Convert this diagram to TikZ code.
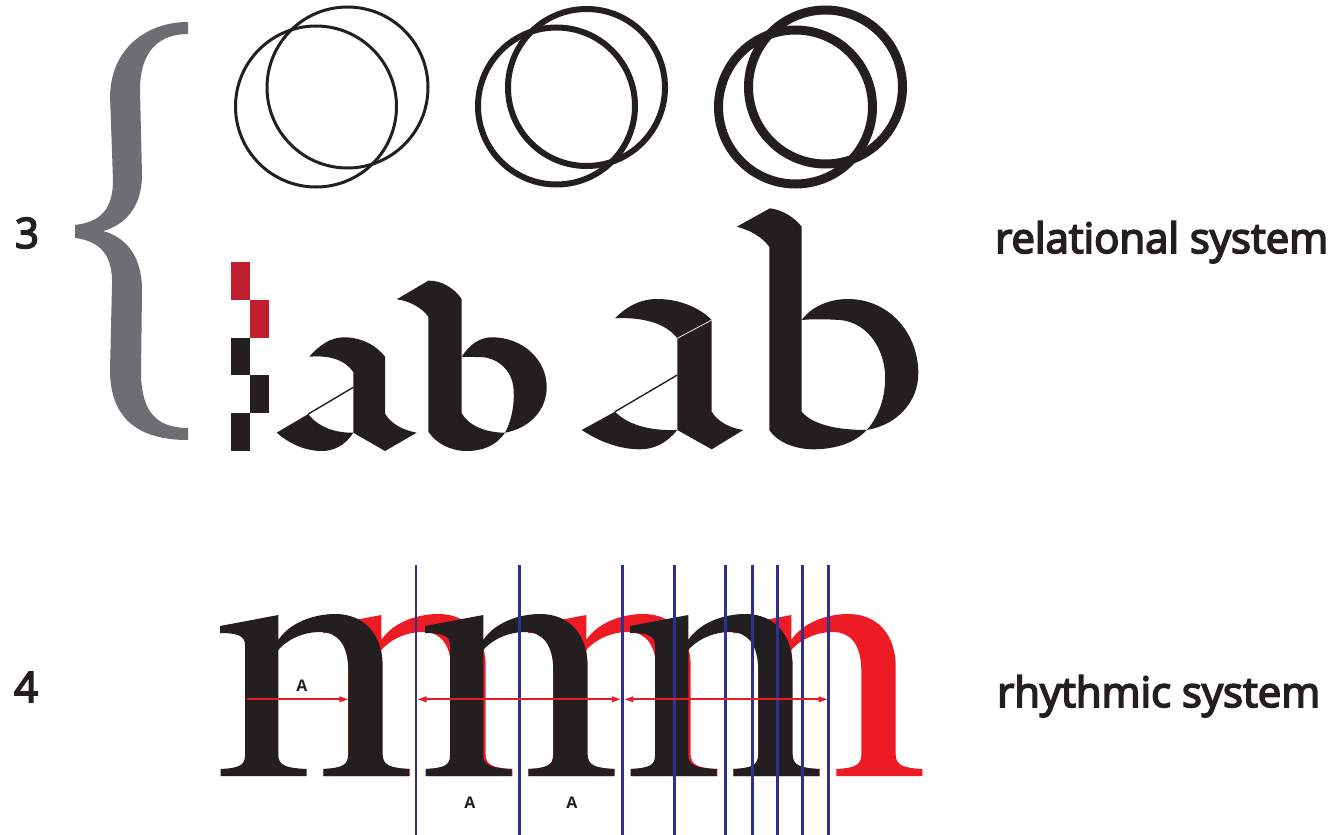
\documentclass[tikz,border=0pt]{standalone}
\usepackage{fontspec}
\usepackage{graphicx}
\setmainfont{Open Sans}
\newfontfamily\labelfont[FakeBold=4]{Open Sans}
\usetikzlibrary{arrows.meta}
\definecolor{ink}{HTML}{231F20}
\definecolor{bracegray}{HTML}{6D6E71}
\definecolor{darkred}{HTML}{BE1E2D}
\definecolor{brightred}{HTML}{ED1C24}
\definecolor{navy}{HTML}{2E3192}
% serif n glyph, origin at left serif / baseline
\newcommand{\nglyph}[2]{%
\fill[#2,shift={(#1,776)}]
 (0,-150) -- (58.3,-161) -- (58.3,-136)
 .. controls (70,-154) and (95,-162) .. (115,-162)
 .. controls (145,-162) and (162,-141) .. (162.7,-111)
 -- (162.7,-21) .. controls (163,-11) and (170,-8) .. (189.3,-7)
 -- (189.3,0) -- (103.3,0) -- (103.3,-7)
 .. controls (122,-8) and (128,-11) .. (128.3,-21)
 -- (128.3,-106) .. controls (128,-131) and (118,-144) .. (100,-144)
 .. controls (80,-144) and (65,-134) .. (58.3,-126)
 -- (58.3,-21) .. controls (58.5,-11) and (65,-8) .. (86.7,-7)
 -- (86.7,0) -- (0.7,0) -- (0.7,-7)
 .. controls (20,-8) and (25,-11) .. (25,-21)
 -- (25,-131) .. controls (25,-140) and (18,-143) .. (0,-143) -- cycle;}
\begin{document}
\begin{tikzpicture}[x=1pt,y=-1pt,
  ringthin/.style={draw=ink,line width=3pt},
  ringmid/.style={draw=ink,line width=6pt},
  ringthick/.style={draw=ink,line width=9pt},
  letterfill/.style={fill=ink},
  hairline/.style={draw=ink,line width=1.4pt},
  bluerule/.style={draw=navy,line width=2.6pt},
  redarrow/.style={draw=brightred,line width=2pt},
  tipA/.tip={Triangle[length=9pt,width=5.5pt]},
  sidelabel/.style={anchor=base west,inner sep=0pt,text=ink},
  numlabel/.style={anchor=base,inner sep=0pt,text=ink,font=\fontsize{42}{42}\labelfont},
  smallA/.style={inner sep=0pt,text=ink,font=\fontsize{16}{16}\selectfont\bfseries}]
\useasboundingbox (0,0) rectangle (1344,835);
\fill[white] (0,0) rectangle (1344,835);

% brace
\fill[bracegray] (188,22) .. controls (150,22) and (112,45) .. (110,95)
  -- (113,180) .. controls (113,210) and (100,222) .. (75,225)
  -- (75,238) .. controls (100,241) and (113,255) .. (112,285)
  -- (110,370) .. controls (110,420) and (140,440) .. (188,440)
  -- (188,428) .. controls (155,428) and (142,410) .. (141,375)
  -- (142,290) .. controls (142,255) and (125,237) .. (103,231)
  .. controls (125,225) and (142,207) .. (142,175)
  -- (140,90) .. controls (140,50) and (160,34) .. (188,34) -- cycle;

% numbers
\node[numlabel] (n3) at (27,248) {3};
\node[numlabel] (n4) at (26,702) {4};

% circles
\draw[ringthin] (316,106.5) circle (80.5);
\draw[ringthin] (347.5,87.5) circle (80.5);
\draw[ringmid] (556.5,106) circle (78.5);
\draw[ringmid] (586.5,87.5) circle (78.5);
\draw[ringthick] (795.5,107) circle (77);
\draw[ringthick] (825.5,87) circle (77);

% checker
\fill[darkred] (231,262) rectangle (250,300);
\fill[darkred] (250,300) rectangle (269,337.5);
\fill[ink] (231,337.5) rectangle (250,375);
\fill[ink] (250,375) rectangle (269,413);
\fill[ink] (231,413) rectangle (250,451);

% small a
\fill[letterfill] (309.3,356.7) .. controls (320,344) and (332,337.3) .. (344,337.3)
  .. controls (362,337.3) and (377,346) .. (385,356.7)
  -- (385,413.3) .. controls (390,423) and (402,430) .. (416.7,432.7)
  -- (385,451) -- (353.3,432.7) -- (353.3,372)
  .. controls (345,360) and (330,355) .. cycle;
\fill[letterfill] (276.7,432.7) -- (308.3,414)
  .. controls (318,427) and (335,433) .. (353.3,432.7)
  .. controls (345,446) and (333,451) .. (322,451)
  .. controls (305,451) and (290,444) .. cycle;
\draw[hairline] (308.3,414) -- (353.3,387.3);

% small b
\fill[letterfill] (396.7,299.3) -- (428.3,280.7)
  .. controls (440,280) and (455,288) .. (461.7,299.3)
  -- (461.7,413.3) .. controls (468,425) and (485,432.7) .. (505,432.7)
  .. controls (496,446) and (482,451) .. (466.7,451)
  .. controls (450,451) and (436,443) .. (428.3,431.7)
  -- (428.3,316.7) .. controls (422,308) and (410,301) .. cycle;
\fill[letterfill] (461.7,356.7) .. controls (470,344) and (480,337.3) .. (492,337.3)
  .. controls (523,337.3) and (546.7,360) .. (546.7,387)
  .. controls (546.7,410) and (530,428) .. (505,432.7)
  .. controls (512,420) and (515,402) .. (513.3,386.7)
  .. controls (511,368) and (495,357) .. (480,357)
  .. controls (472,357) and (466,357) .. cycle;

% big a
\fill[letterfill] (615,318.3) .. controls (628,305) and (642,299) .. (656.7,299)
  .. controls (680,299) and (700,308) .. (711.7,320)
  -- (711.7,411.7) .. controls (718,422) and (730,428) .. (743.3,430)
  -- (711.7,449.3) -- (677.3,430) -- (677.3,338.3)
  .. controls (665,322) and (640,317) .. cycle;
\draw[white,line width=0.7pt] (677.3,338.3) -- (711.7,320);
\fill[letterfill] (581.7,430) -- (615,411.7)
  .. controls (628,425) and (650,431) .. (677.3,430)
  .. controls (665,445) and (652,449.3) .. (640,449.3)
  .. controls (620,449.3) and (600,442) .. cycle;
\draw[hairline] (615,411.7) -- (677.3,375);

% big b
\fill[letterfill] (736.7,226.7) -- (770,208.3)
  .. controls (783,210) and (795,218) .. (801.7,226.7)
  -- (801.7,411.7) .. controls (812,424) and (835,430) .. (866.7,430)
  .. controls (855,443) and (835,449.3) .. (813.3,449.3)
  .. controls (795,449.3) and (777,442) .. (769.3,430)
  -- (769.3,246.7) .. controls (762,237) and (750,230) .. cycle;
\fill[letterfill] (801.7,320) .. controls (812,306) and (830,299) .. (848,299)
  .. controls (888,299) and (918.3,332) .. (918.3,373.3)
  .. controls (918.3,402) and (897,425) .. (866.7,430)
  .. controls (880,415) and (886,395) .. (885,373.3)
  .. controls (883,345) and (865,322) .. (840,320)
  .. controls (825,319) and (812,319) .. cycle;

% n glyphs: red behind, black in front
\nglyph{323}{brightred}
\nglyph{528}{brightred}
\nglyph{733}{brightred}
\nglyph{220}{ink}
\nglyph{425}{ink}
\nglyph{630}{ink}

% blue rules
\foreach \bx [count=\i] in {416,519.3,622.3,674.3,725.3,752.3,777.3,802.3,828.3}{
  \coordinate (rt\i) at (\bx,565);
  \coordinate (rb\i) at (\bx,835);
  \draw[bluerule] (rt\i) -- (rb\i);
}

% red arrows
\coordinate (a1s) at (246.7,699.3);
\coordinate (a1e) at (348.3,699.3);
\coordinate (a2s) at (417.5,699.3);
\coordinate (a2e) at (620.8,699.3);
\coordinate (a3s) at (624.3,699.3);
\coordinate (a3e) at (827.7,699.3);
\draw[redarrow,-tipA] (a1s) -- (a1e);
\draw[redarrow,tipA-tipA] (a2s) -- (a2e);
\draw[redarrow,tipA-tipA] (a3s) -- (a3e);

% A labels
\node[smallA] (A1) at (302,686) {A};
\node[smallA] (A2) at (470,803) {A};
\node[smallA] (A3) at (572,803) {A};

% side labels
\node[sidelabel] (rel) at (995,253) {\resizebox{333pt}{!}{\labelfont relational system}};
\node[sidelabel] (rhy) at (997,707) {\resizebox{323pt}{!}{\labelfont rhythmic system}};
\end{tikzpicture}
\end{document}
